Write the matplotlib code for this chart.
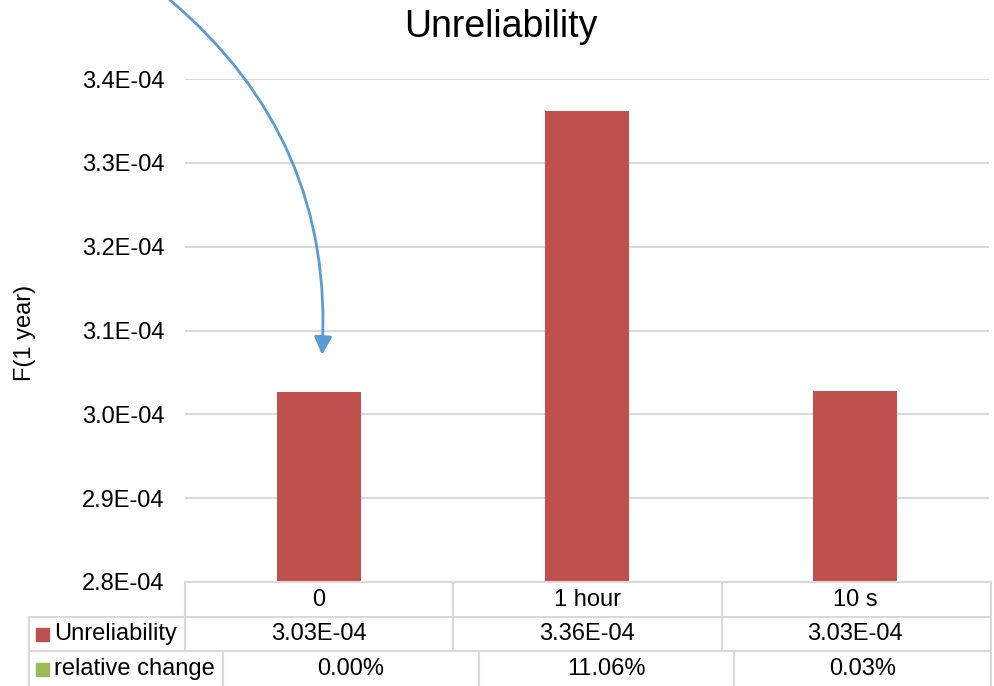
import numpy as np
import matplotlib
matplotlib.use('Agg')
import matplotlib.pyplot as plt
from matplotlib.lines import Line2D
from matplotlib.patches import Rectangle, FancyArrowPatch, ArrowStyle
from matplotlib.ticker import FuncFormatter
from matplotlib import transforms

plt.rcParams['font.family'] = ['Liberation Sans', 'DejaVu Sans']

# data
categories    = ['0', '1 hour', '10 s']
unreliability = [3.0272e-4, 3.3620e-4, 3.0281e-4]   # F(1 year)
rel_change    = [0.00, 11.06, 0.03]                 # percent vs. first case
series_names  = ['Unreliability', 'relative change']

RED   = '#C0504D'
GREEN = '#9BBB59'
GRID  = '#D9D9D9'
BLUE  = '#5B9BD5'

W, H = 994, 686
def fx(x):
    return x / W
def fy(y):
    return 1 - y / H

fig = plt.figure(figsize=(W / 100, H / 100), dpi=100)

# plot area in pixels: left 185, right 989, top 79, bottom 582
ax = fig.add_axes([fx(185), fy(582), (989 - 185) / W, (582 - 79) / H])
x = np.arange(len(categories))
ax.bar(x, unreliability, width=0.313, color=RED, zorder=3)
ax.set_xlim(-0.5, 2.5)
ax.set_ylim(2.8e-4, 3.4e-4)
ax.set_yticks(np.linspace(2.8e-4, 3.4e-4, 7))
ax.yaxis.set_major_formatter(FuncFormatter(lambda v, p: f"{v:.1E}"))
ax.set_xticks([])
ax.yaxis.grid(True, color=GRID, lw=1.5, zorder=0)
ax.tick_params(axis='y', length=0, pad=15, labelsize=17)
for s in ax.spines.values():
    s.set_visible(False)

fig.text(fx(501), fy(37), 'Unreliability', ha='center', va='baseline', fontsize=27)
fig.text(fx(25), fy(333), 'F(1 year)', rotation=90, ha='center', va='center', fontsize=17)

# data table under the plot
def hline(x0, x1, y):
    fig.add_artist(Line2D([fx(x0), fx(x1)], [fy(y), fy(y)], color=GRID, lw=1.5,
                          transform=fig.transFigure))
def vline(xx, y0, y1):
    fig.add_artist(Line2D([fx(xx), fx(xx)], [fy(y0), fy(y1)], color=GRID, lw=1.5,
                          transform=fig.transFigure))

hline(185, 991, 582)
hline(29, 991, 617)
hline(29, 991, 651)
for xx in (185, 453, 722):
    vline(xx, 582, 651)
vline(991, 582, 686)
vline(29, 617, 686)
row3_edges = [223, 479, 734, 991]
for xx in row3_edges[:-1]:
    vline(xx, 651, 686)

tr = transforms.blended_transform_factory(ax.transData, fig.transFigure)
for i, (c, v) in enumerate(zip(categories, unreliability)):
    fig.text(i, fy(600), c, transform=tr, ha='center', va='center', fontsize=17)
    fig.text(i, fy(634), f"{v:.2E}", transform=tr, ha='center', va='center', fontsize=17)
for i, r in enumerate(rel_change):
    xc = (row3_edges[i] + row3_edges[i + 1]) / 2
    fig.text(fx(xc), fy(669), f"{r:.2f}%", ha='center', va='center', fontsize=17)

for name, col, yy in zip(series_names, [RED, GREEN], [634, 669]):
    fig.add_artist(Rectangle((fx(36), fy(yy + 6.5)), 13 / W, 13 / H, color=col,
                             transform=fig.transFigure))
    fig.text(fx(54), fy(yy), name, ha='left', va='center', fontsize=17)

# curved pointer onto the first bar
arrow = FancyArrowPatch((fx(170), fy(0)), (fx(322), fy(355)),
                        transform=fig.transFigure,
                        connectionstyle="arc3,rad=-0.25",
                        arrowstyle=ArrowStyle("-|>", head_length=0.55, head_width=0.27),
                        mutation_scale=20, color=BLUE, lw=2,
                        shrinkA=0, shrinkB=0)
fig.add_artist(arrow)

fig.savefig('out.png', dpi=100)
